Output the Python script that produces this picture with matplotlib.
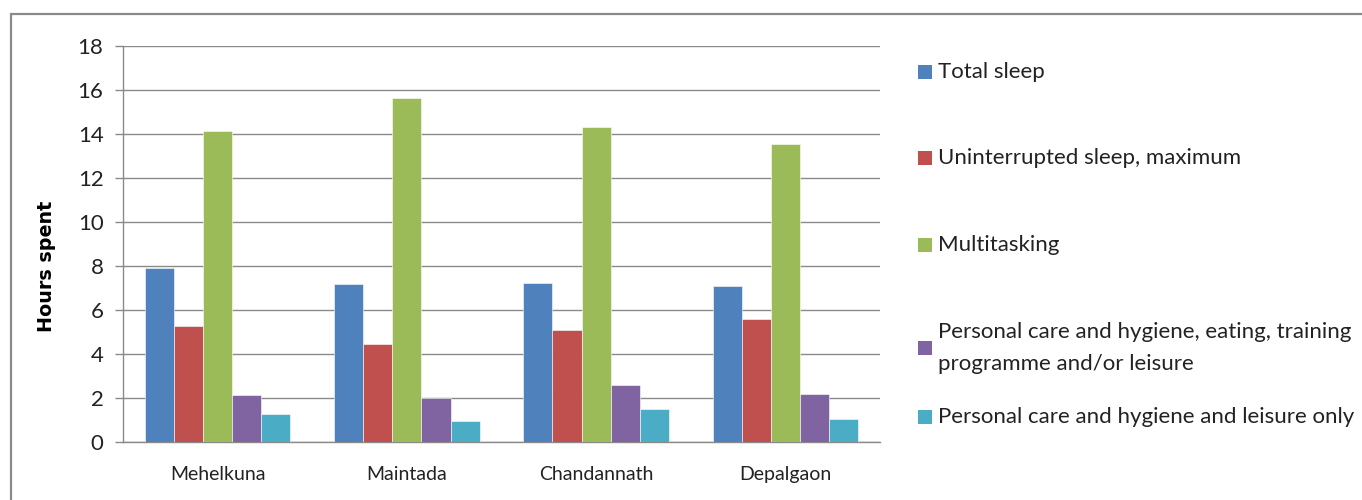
import numpy as np
import matplotlib
matplotlib.use("Agg")
import matplotlib.pyplot as plt
from matplotlib.patches import Rectangle

plt.rcParams['font.family'] = ['Lato', 'DejaVu Sans']

villages = ['Mehelkuna', 'Maintada', 'Chandannath', 'Depalgaon']
series_names = ['Total sleep',
                'Uninterrupted sleep, maximum',
                'Multitasking',
                'Personal care and hygiene, eating, training\nprogramme and/or leisure',
                'Personal care and hygiene and leisure only']
total_sleep = [7.9, 7.2, 7.25, 7.1]
uninterrupted_sleep = [5.27, 4.47, 5.09, 5.58]
multitasking = [14.14, 15.62, 14.33, 13.56]
care_eating_leisure = [2.15, 1.98, 2.59, 2.17]
care_leisure_only = [1.29, 0.97, 1.49, 1.03]
y_ticks = [0, 2, 4, 6, 8, 10, 12, 14, 16, 18]

colors = ['#4F81BD', '#C0504D', '#9BBB59', '#8064A2', '#4BACC6']
all_series = [total_sleep, uninterrupted_sleep, multitasking,
              care_eating_leisure, care_leisure_only]

W, H = 1362, 500
fig = plt.figure(figsize=(W / 100, H / 100), dpi=100)
ax = fig.add_axes([123 / W, 1 - 442 / H, (880 - 123) / W, (442 - 46) / H])

# outer chart border (runs off the right and bottom edges)
fig.patches.append(Rectangle((11 / W, -0.1), 1.2, (H - 14) / H + 0.1,
                             transform=fig.transFigure, fill=False,
                             edgecolor='#8a8a8a', linewidth=1.6))

x = np.arange(len(villages))
bw = 1 / (len(all_series) + 1.5)
for i, (vals, c) in enumerate(zip(all_series, colors)):
    offs = (i - (len(all_series) - 1) / 2) * bw
    ax.bar(x + offs, vals, bw, color=c, edgecolor='white', linewidth=0.4,
           zorder=3)

ax.set_xlim(-0.5, len(villages) - 0.5)
ax.set_ylim(0, 18)
ax.set_yticks(y_ticks)
ax.set_yticklabels([str(t) for t in y_ticks], fontsize=16, color='#222222')
ax.set_xticks(x)
ax.set_xticklabels(villages, fontsize=14, color='#222222')
ax.tick_params(axis='x', length=0, pad=17)
ax.tick_params(axis='y', length=6, width=1, color='#8a8a8a', pad=8)
ax.grid(axis='y', color='#8a8a8a', linewidth=1, zorder=0)
for s in ['top', 'right']:
    ax.spines[s].set_visible(False)
for s in ['left', 'bottom']:
    ax.spines[s].set_color('#8a8a8a')
    ax.spines[s].set_linewidth(1)

fig.text(47 / W, 1 - 266 / H, 'Hours spent', rotation=90, fontsize=13.8,
         fontweight='bold', family='DejaVu Sans', ha='center', va='center',
         color='black')

# legend drawn by hand so the entries sit where they should
legend_rows = [72, 158, 245, 348, 417]
for name, c, yc in zip(series_names, colors, legend_rows):
    fig.patches.append(Rectangle((918 / W, 1 - (yc + 7) / H), 14 / W, 14 / H,
                                 transform=fig.transFigure, facecolor=c,
                                 edgecolor='none'))
    fig.text(938 / W, 1 - yc / H, name, fontsize=16, ha='left', va='center',
             color='#222222', linespacing=1.8)

fig.savefig('out.png', dpi=100)
